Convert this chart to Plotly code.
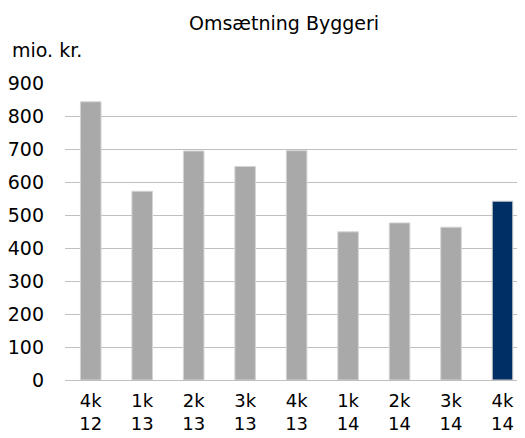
import plotly.graph_objects as go

categories = ["4k<br>12", "1k<br>13", "2k<br>13", "3k<br>13", "4k<br>13",
              "1k<br>14", "2k<br>14", "3k<br>14", "4k<br>14"]
values = [843, 572, 694, 647, 695, 449, 476, 463, 542]
colors = ["#a9a9a9"] * 8 + ["#002f65"]
y_ticks = [0, 100, 200, 300, 400, 500, 600, 700, 800, 900]

fig = go.Figure()
fig.add_trace(go.Bar(
    x=categories, y=values,
    marker=dict(color=colors, line=dict(color="#d4d4d4", width=1)),
    width=0.4,
))

font = "Verdana, DejaVu Sans, sans-serif"
# page body has an 8px default margin, so the figure is sized 517x430
fig.update_layout(
    width=517, height=430,
    margin=dict(l=57, r=0, t=75, b=58),
    paper_bgcolor="white", plot_bgcolor="white",
    showlegend=False,
    font=dict(family=font, color="#000000", size=19),
    title=dict(text="Omsætning Byggeri", x=0.534, xref="container", xanchor="center",
               y=0.965, yref="container", yanchor="middle",
               font=dict(size=19, family=font)),
    xaxis=dict(showgrid=False, showline=False, ticks="", tickangle=0,
               range=[-0.5, 8.437], automargin=False,
               tickfont=dict(size=18), ticklabelstandoff=8),
    yaxis=dict(range=[0, 900], tickvals=y_ticks, showgrid=True,
               gridcolor="#bfbfbf", gridwidth=1, zeroline=True,
               zerolinecolor="#bfbfbf", zerolinewidth=1, showline=False,
               automargin=False,
               ticks="", tickfont=dict(size=19), ticklabelstandoff=20),
    annotations=[dict(text="mio. kr.", xref="paper", yref="paper",
                      x=-0.1196, y=1.111, xanchor="left", yanchor="middle",
                      showarrow=False, font=dict(size=19, family=font))],
)

fig.write_html("out.html")
